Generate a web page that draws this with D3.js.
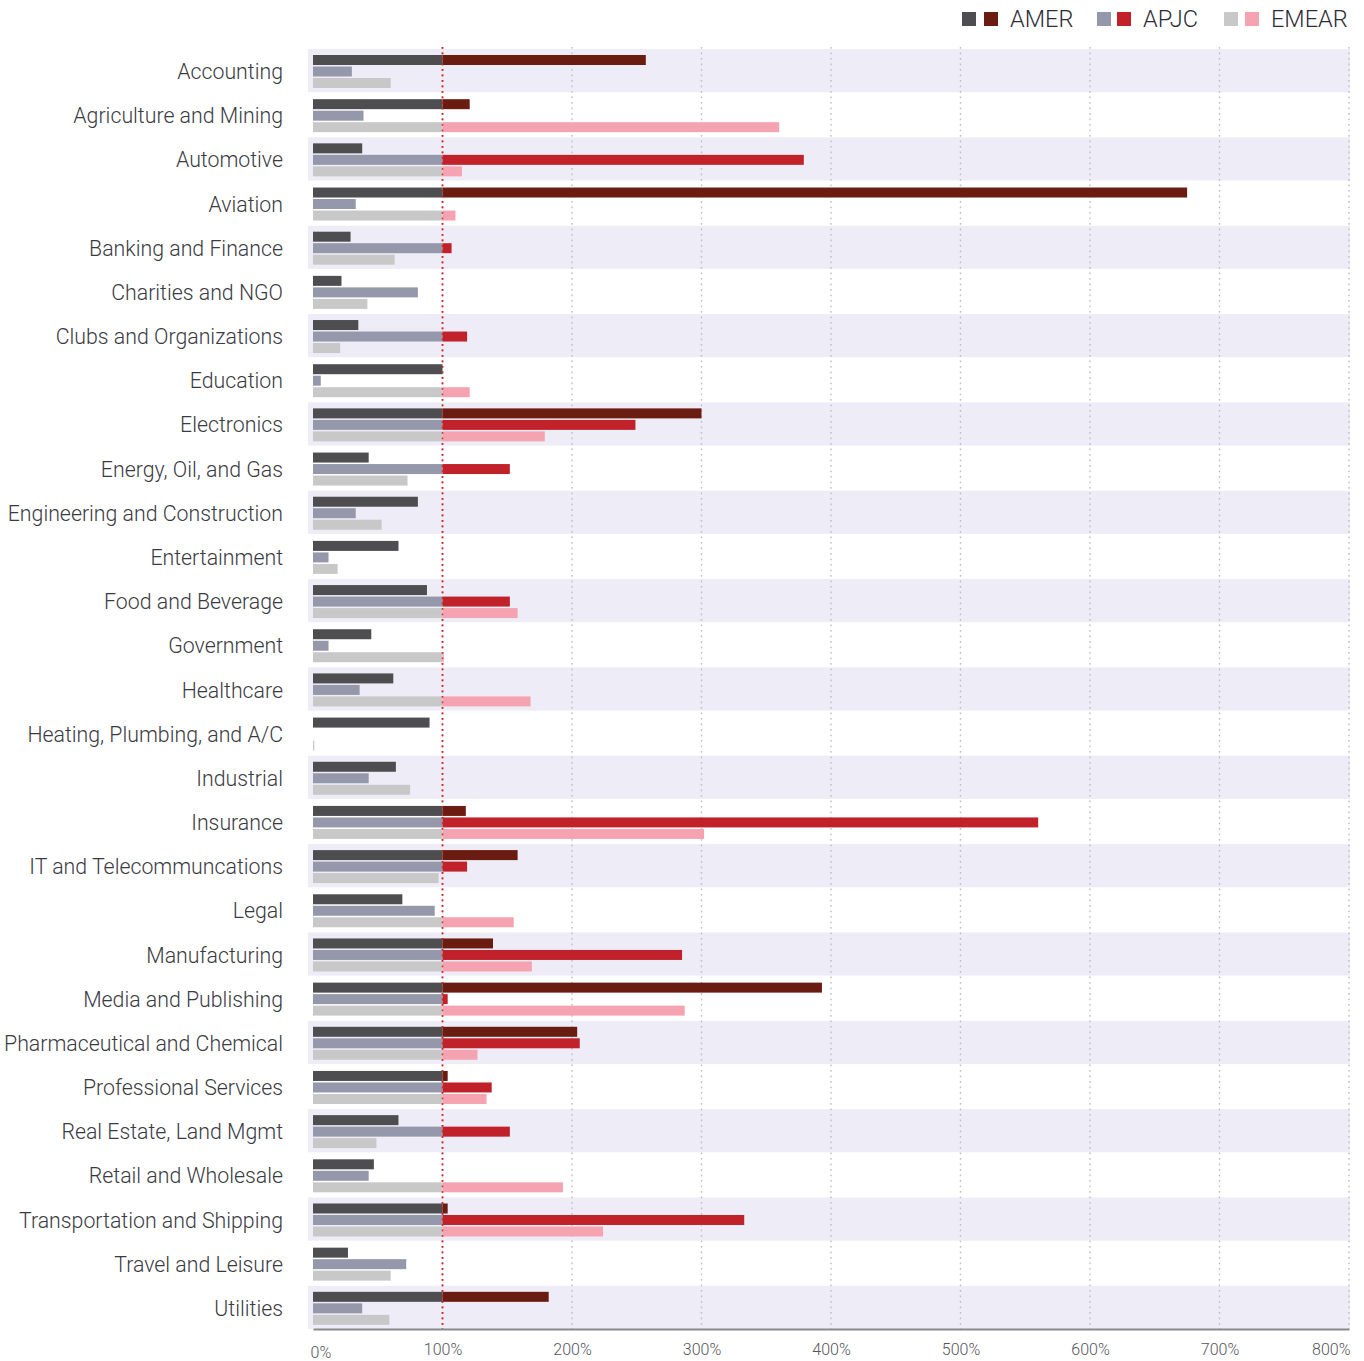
<!DOCTYPE html>
<html><head><meta charset="utf-8">
<script src="https://cdn.jsdelivr.net/npm/d3@7"></script>
<style>body{margin:0;background:#fff}svg{display:block}</style>
</head><body>
<svg id="c" width="1364" height="1361"></svg>
<script>
const categories = ["Accounting","Agriculture and Mining","Automotive","Aviation","Banking and Finance","Charities and NGO","Clubs and Organizations","Education","Electronics","Energy, Oil, and Gas","Engineering and Construction","Entertainment","Food and Beverage","Government","Healthcare","Heating, Plumbing, and A/C","Industrial","Insurance","IT and Telecommuncations","Legal","Manufacturing","Media and Publishing","Pharmaceutical and Chemical","Professional Services","Real Estate, Land Mgmt","Retail and Wholesale","Transportation and Shipping","Travel and Leisure","Utilities"];
const amer  = [257,121,38,675,29,22,35,100,300,43,81,66,88,45,62,90,64,118,158,69,139,393,204,104,66,47,104,27,182];
const apjc  = [30,39,379,33,107,81,119,6,249,152,33,12,152,12,36,0,43,560,119,94,285,104,206,138,152,43,333,72,38];
const emear = [60,360,115,110,63,42,21,121,179,73,53,19,158,101,168,1,75,302,97,155,169,287,127,134,49,193,224,60,59];
const seriesNames = ["AMER","APJC","EMEAR"];
const xTicks = [0,100,200,300,400,500,600,700,800];

const baseColors = ["#4e4e51","#9598ab","#c8c8c8"];
const overColors = ["#6b1c10","#c1222a","#f5a3b1"];
const seriesData = [amer, apjc, emear];

const svg = d3.select("#c");
const fontFam = "Roboto, 'Helvetica Neue', Arial, sans-serif";
const x = d3.scaleLinear().domain([0,800]).range([313,1349]);
const y = d3.scaleBand().domain(categories).range([49,1330]).padding(0);
const step = y.step();

// bands
svg.append("g").selectAll("rect").data(categories.filter((d,i)=>i%2===0)).join("rect")
  .attr("x",308).attr("width",1350-308)
  .attr("y",d=>y(d)).attr("height",step-1).attr("fill","#eeecf6");

// grid
const grid = svg.append("g");
xTicks.filter(t=>t>0).forEach(t=>{
  grid.append("line").attr("x1",x(t)).attr("x2",x(t)).attr("y1",47).attr("y2",1329)
    .attr("stroke", t===100 ? "#d32630" : "#c0bfc6")
    .attr("stroke-width", t===100 ? 1.6 : 1.4)
    .attr("stroke-dasharray", "1.8,3.7");
});

// bars
const barH = 10, barStep = 11.5, barOff = 6;
const bars = svg.append("g");
seriesData.forEach((vals,s)=>{
  categories.forEach((c,i)=>{
    const v = vals[i];
    const yy = y(c)+barOff+s*barStep;
    if (v>0) {
      bars.append("rect").attr("x",x(0)).attr("y",yy)
        .attr("width",x(Math.min(v,100))-x(0)).attr("height",barH).attr("fill",baseColors[s]);
    }
    if (v>100) {
      bars.append("rect").attr("x",x(100)).attr("y",yy)
        .attr("width",x(v)-x(100)).attr("height",barH).attr("fill",overColors[s]);
    }
  });
});
// red dotted line over bars
svg.append("line").attr("x1",x(100)).attr("x2",x(100)).attr("y1",47).attr("y2",1329)
  .attr("stroke","#d32630").attr("stroke-width",1.6).attr("stroke-dasharray","1.8,3.7").attr("opacity",0.85);

// category labels
svg.append("g").selectAll("text").data(categories).join("text")
  .attr("x",283).attr("y",d=>y(d)+step/2+0.5)
  .attr("text-anchor","end").attr("dominant-baseline","central")
  .attr("font-family",fontFam).attr("font-weight",300).attr("font-size",21.3)
  .attr("fill","#3a3a42").text(d=>d);

// axis
const axis = d3.axisBottom(x).tickValues(xTicks).tickFormat(d=>d+"%").tickSize(0);
const ag = svg.append("g").attr("transform","translate(0,1329)").call(axis);
ag.select(".domain").attr("stroke","#8a8a8e").attr("stroke-width",2);
ag.selectAll("text").attr("font-family",fontFam).attr("font-weight",300).attr("font-size",16)
  .attr("fill","#55555c").attr("dy","0").attr("y",26)
  .each(function(d){
    const t = d3.select(this);
    if (d===0) t.attr("text-anchor","start").attr("x",-3).attr("y",28.5);
    if (d===800) t.attr("text-anchor","end").attr("x",1);
  });

// legend
const legend = [
  {n:"AMER", sq:[962,984], tx:1010},
  {n:"APJC", sq:[1097,1117], tx:1143},
  {n:"EMEAR", sq:[1224,1245], tx:1271}
];
const lg = svg.append("g");
legend.forEach((l,i)=>{
  lg.append("rect").attr("x",l.sq[0]).attr("y",12).attr("width",14).attr("height",14).attr("fill",baseColors[i]);
  lg.append("rect").attr("x",l.sq[1]).attr("y",12).attr("width",14).attr("height",14).attr("fill",overColors[i]);
  lg.append("text").attr("x",l.tx).attr("y",19).attr("dominant-baseline","central")
    .attr("font-family",fontFam).attr("font-weight",300).attr("font-size",23.5)
    .attr("fill","#2c2c38").text(seriesNames[i]);
});
</script>
</body></html>
